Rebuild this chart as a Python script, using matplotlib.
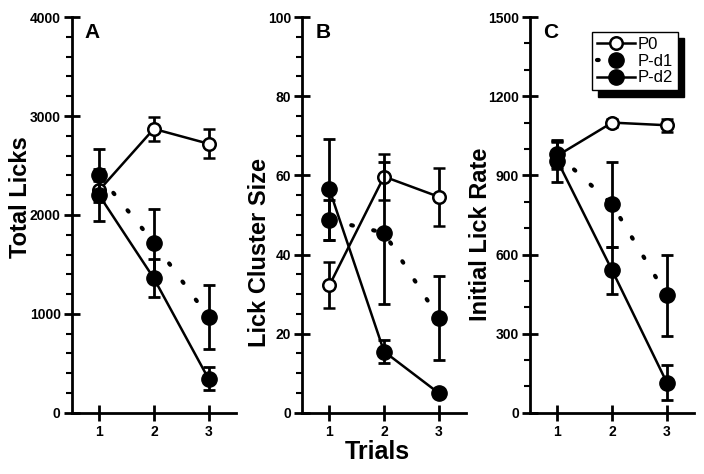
import numpy as np
import matplotlib
import matplotlib.pyplot as plt
from matplotlib.lines import Line2D
from matplotlib.ticker import MultipleLocator

plt.rcParams['font.family'] = ['Liberation Sans', 'DejaVu Sans']
plt.rcParams['font.weight'] = 'bold'

trials = [1, 2, 3]

# A: total licks
licks_p0 = [2250, 2870, 2720]
licks_p0_err = [90, 125, 145]
licks_d1 = [2400, 1720, 970]
licks_d1_err = [270, 345, 325]
licks_d2 = [2200, 1360, 345]
licks_d2_err = [260, 190, 115]

# B: lick cluster size
clus_p0 = [32.2, 59.7, 54.6]
clus_p0_err = [5.8, 5.8, 7.3]
clus_d1 = [48.7, 45.5, 24.0]
clus_d1_err = [5.0, 18.0, 10.7]
clus_d2 = [56.5, 15.5, 5.0]
clus_d2_err = [12.8, 3.0, 1.0]

# C: initial lick rate
rate_p0 = [975, 1100, 1090]
rate_p0_err = [50, 15, 25]
rate_d1 = [980, 790, 445]
rate_d1_err = [50, 160, 155]
rate_d2 = [955, 540, 115]
rate_d2_err = [80, 90, 65]

panels = [
    ('A', 'Total Licks', 4000, 1000, 200,
     (licks_p0, licks_p0_err), (licks_d1, licks_d1_err), (licks_d2, licks_d2_err)),
    ('B', 'Lick Cluster Size', 100, 20, 5,
     (clus_p0, clus_p0_err), (clus_d1, clus_d1_err), (clus_d2, clus_d2_err)),
    ('C', 'Initial Lick Rate', 1500, 300, 100,
     (rate_p0, rate_p0_err), (rate_d1, rate_d1_err), (rate_d2, rate_d2_err)),
]

fig = plt.figure(figsize=(7.04, 4.74), dpi=100)
lefts = [0.102, 0.429, 0.753]
width = 0.233
bottom = 0.129
height = 0.835
# where the y labels sit (axes fraction), as in the original figure
label_xy = [(-0.245, 0.545), (-0.19, 0.405), (-0.235, 0.45)]

dotted = (0, (0.4, 5))
lw = 1.8
ebkw = dict(elinewidth=2, capsize=4, capthick=2, ecolor='black')

for i, (letter, ylabel, ymax, major, minor, p0, d1, d2) in enumerate(panels):
    ax = fig.add_axes([lefts[i], bottom, width, height])

    ax.errorbar(trials, p0[0], yerr=p0[1], color='black', lw=lw, marker='o',
                ms=9, mfc='white', mec='black', mew=1.8, zorder=3, **ebkw)
    eb = ax.errorbar(trials, d1[0], yerr=d1[1], color='black', lw=3, ls=dotted,
                     marker='o', ms=11, mfc='black', mec='black', zorder=4, **ebkw)
    eb[0].set_dash_capstyle('round')
    ax.errorbar(trials, d2[0], yerr=d2[1], color='black', lw=lw, marker='o',
                ms=11, mfc='black', mec='black', zorder=5, **ebkw)

    ax.set_xlim(0.5, 3.5)
    ax.set_ylim(0, ymax)
    ax.set_xticks(trials)
    ax.yaxis.set_major_locator(MultipleLocator(major))
    ax.yaxis.set_minor_locator(MultipleLocator(minor))

    for side in ['top', 'right']:
        ax.spines[side].set_visible(False)
    for side in ['left', 'bottom']:
        ax.spines[side].set_linewidth(2)

    ax.tick_params(axis='x', which='major', direction='inout', length=12,
                   width=2, labelsize=10, pad=3)
    ax.tick_params(axis='y', which='major', direction='inout', length=12,
                   width=2, labelsize=10, pad=2)
    ax.tick_params(axis='y', which='minor', direction='out', length=4, width=1.5)
    for lab in ax.get_xticklabels() + ax.get_yticklabels():
        lab.set_fontweight('bold')

    ax.set_ylabel(ylabel, fontsize=17, fontweight='bold')
    ax.yaxis.set_label_coords(*label_xy[i])
    ax.text(0.08, 0.985, letter, transform=ax.transAxes, fontsize=15,
            fontweight='bold', va='top', ha='left')

    if i == 1:
        ax.set_xlabel('Trials', fontsize=18, fontweight='bold')
        ax.xaxis.set_label_coords(0.46, -0.068)

    if i == 2:
        handles = [
            Line2D([], [], color='black', lw=lw, marker='o', ms=9, mfc='white',
                   mec='black', mew=1.8),
            Line2D([], [], color='black', lw=3, ls=dotted, marker='o', ms=11,
                   mfc='black', dash_capstyle='round'),
            Line2D([], [], color='black', lw=lw, marker='o', ms=11, mfc='black'),
        ]
        leg = ax.legend(handles, ['P0', 'P-d1', 'P-d2'], loc='upper right',
                        bbox_to_anchor=(0.90, 0.962), borderaxespad=0,
                        prop={'weight': 'normal', 'size': 12},
                        handlelength=2.3, handletextpad=0.15, labelspacing=0.1,
                        borderpad=0.3, fancybox=False, framealpha=1,
                        edgecolor='black',
                        shadow={'ox': 4.5, 'oy': -4.5, 'facecolor': 'black',
                                'edgecolor': 'black', 'alpha': 1})
        leg.get_frame().set_linewidth(1.0)

fig.savefig('out.png', dpi=100)
